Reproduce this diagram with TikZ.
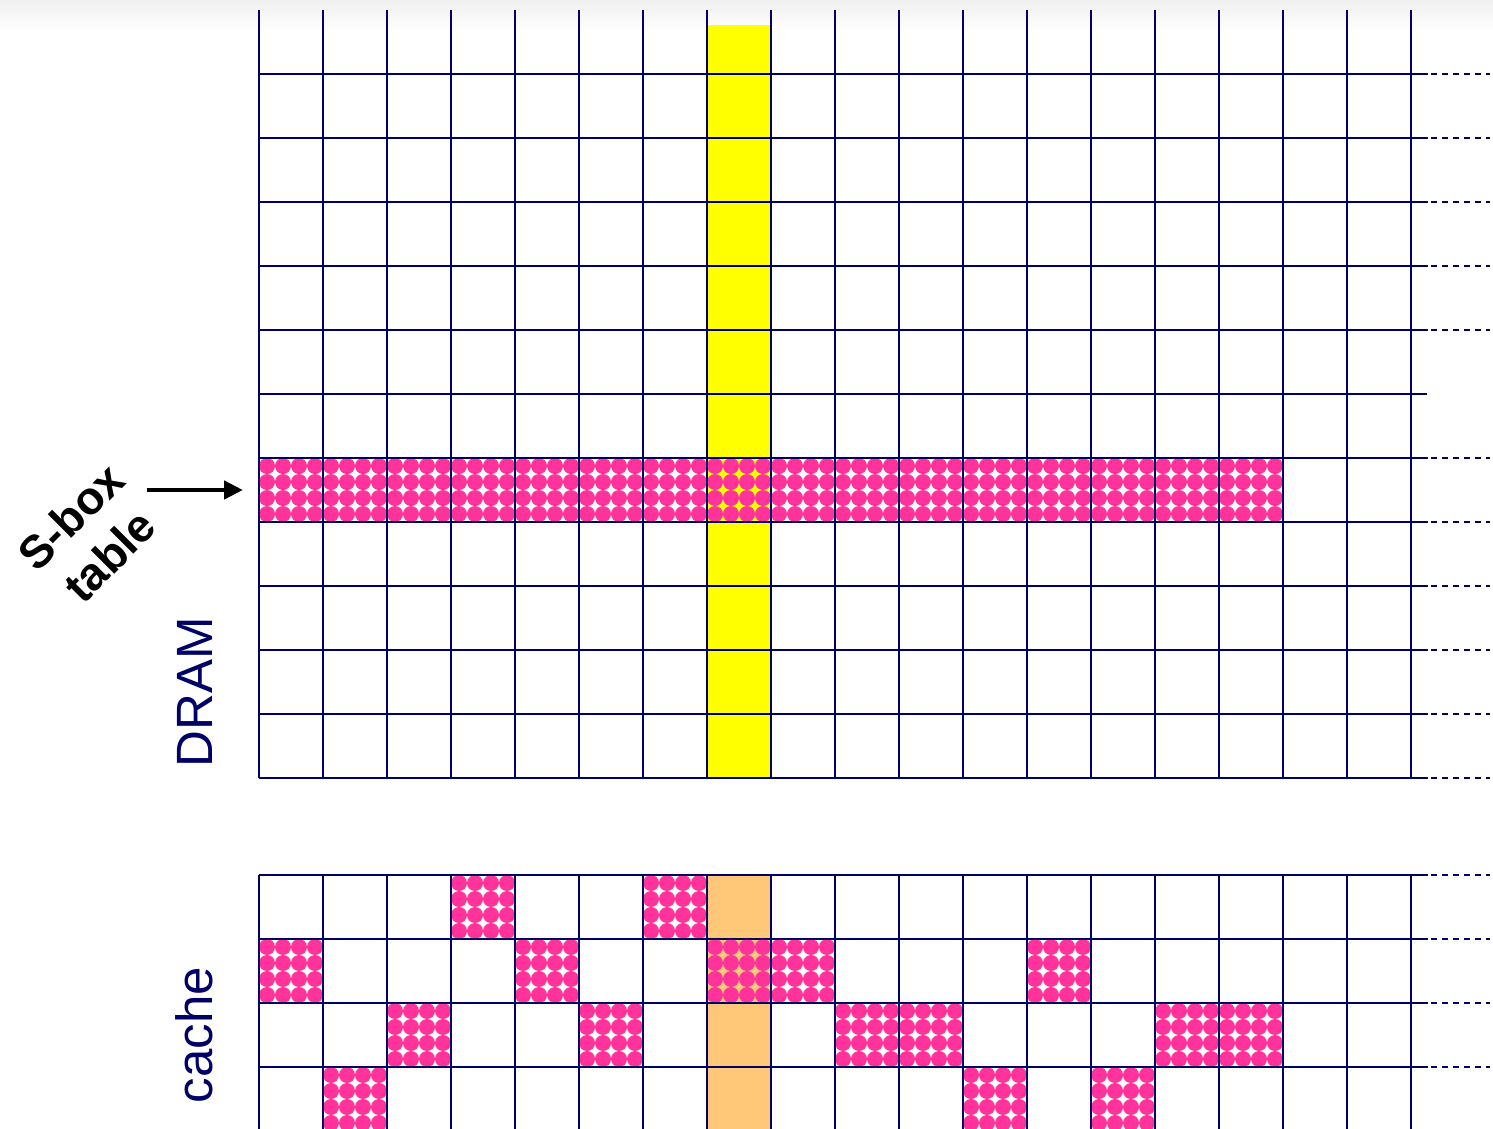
\documentclass[tikz,border=0pt]{standalone}
\usepackage{fontspec}
\setmainfont{Liberation Sans}
\usetikzlibrary{arrows.meta}
\definecolor{gridc}{RGB}{0,0,102}
\definecolor{pinkc}{RGB}{255,51,153}
\definecolor{yelc}{RGB}{255,255,0}
\definecolor{orac}{RGB}{255,200,120}
\tikzset{
  gridline/.style={draw=gridc, line width=2.7pt},
  dashline/.style={draw=gridc, line width=2.7pt, dash pattern=on 6pt off 5pt},
  lbl/.style={text=gridc, font=\fontsize{51}{60}\selectfont, inner sep=0pt},
  sboxlbl/.style={text=black, align=center, font=\bfseries\fontsize{46}{55}\selectfont, inner sep=0pt},
  arrowline/.style={draw=black, line width=4.5pt, -{Triangle[length=19pt,width=18pt]}},
}
\newcommand{\dotcell}[2]{%
  \foreach \di in {0,...,3}{\foreach \dj in {0,...,3}{%
    \fill[pinkc] ({#1+8+16*\di},{#2+8+16*\dj}) circle (8pt);}}}
\begin{document}
\begin{tikzpicture}[x=1pt,y=-1pt]
\useasboundingbox (0,0) rectangle (1493,1129);
\shade[top color=black!6, bottom color=white] (0,0) rectangle (1493,30);
% highlighted columns
\fill[yelc] (707,25) rectangle (771,778);
\fill[orac] (707,875) rectangle (771,1129);
% DRAM S-box row
\foreach \c in {0,...,15}{\dotcell{259+64*\c}{458}}
% cache lines
\foreach \c/\r in {3/0,6/0,0/1,4/1,7/1,8/1,12/1,2/2,5/2,9/2,10/2,14/2,15/2,1/3,11/3,13/3}{
  \dotcell{259+64*\c}{875+64*\r}}
% DRAM grid
\foreach \k in {0,...,18}{\draw[gridline] ({259+64*\k},10) -- ({259+64*\k},778);}
\foreach \y in {74,138,202,266,330,458,522,586,650,714,778}{
  \draw[gridline] (259,\y) -- (1428,\y);
  \draw[dashline] (1431,\y) -- (1490,\y);}
\draw[gridline] (259,394) -- (1427,394);
% cache grid
\foreach \k in {0,...,18}{\draw[gridline] ({259+64*\k},875) -- ({259+64*\k},1135);}
\foreach \y in {875,939,1003,1067}{
  \draw[gridline] (259,\y) -- (1428,\y);
  \draw[dashline] (1431,\y) -- (1490,\y);}
% labels
\node[lbl, rotate=90, anchor=base] (dram) at (212,692) {DRAM};
\node[lbl, rotate=90, anchor=base] (cache) at (212,1035) {cache};
\node[sboxlbl, rotate=45] (sbox) at (90,536) {S-box\\table};
\coordinate (arrS) at (147,490);
\coordinate (arrE) at (243,490);
\draw[arrowline] (arrS) -- (arrE);
\end{tikzpicture}
\end{document}
